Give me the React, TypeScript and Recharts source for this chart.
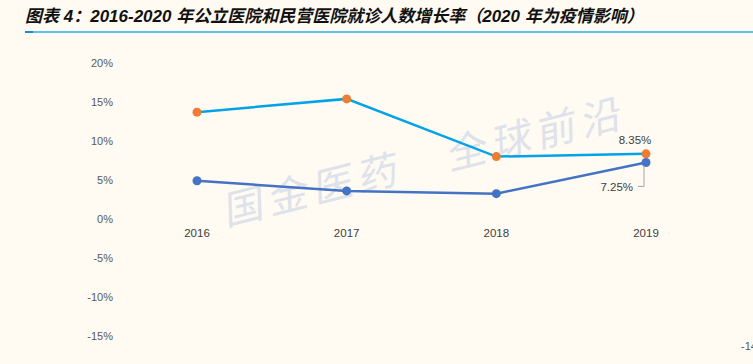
import { LineChart, Line, XAxis, YAxis, LabelList } from "recharts";

// 就诊人数增长率 (%)
const years = ["2016", "2017", "2018", "2019"];
const publicGrowth = [4.9, 3.6, 3.25, 7.25];
const privateGrowth = [13.7, 15.4, 8.0, 8.35];
const baseline = [0, 0, 0, 0];
const yTicks = [-15, -10, -5, 0, 5, 10, 15, 20];

const title =
  "图表 4：2016-2020 年公立医院和民营医院就诊人数增长率（2020 年为疫情影响）";
const watermark = "国金医药　全球前沿";

const data = years.map((year, i) => ({
  year,
  publicRate: publicGrowth[i],
  privateRate: privateGrowth[i],
  zero: baseline[i],
}));

const lastIndex = years.length - 1;

const YearLabel = (props: any) => {
  const { x, y, index } = props;
  return (
    <text
      x={x}
      y={y + 18}
      textAnchor="middle"
      fontSize={11.5}
      fill="#404040"
      fontFamily="Liberation Sans, Arial, sans-serif"
    >
      {years[index]}
    </text>
  );
};

const PrivateLabel = (props: any) => {
  const { x, y, index, value } = props;
  if (index !== lastIndex) return null;
  return (
    <text
      x={x - 11}
      y={y - 10}
      textAnchor="middle"
      fontSize={11.5}
      fill="#404040"
      fontFamily="Liberation Sans, Arial, sans-serif"
    >
      {`${value.toFixed(2)}%`}
    </text>
  );
};

const PublicLabel = (props: any) => {
  const { x, y, index, value } = props;
  if (index !== lastIndex) return null;
  return (
    <g>
      <path
        d={`M${x - 2},${y + 3} L${x - 2},${y + 24} L${x - 8},${y + 24}`}
        fill="none"
        stroke="#a6a6a6"
        strokeWidth={1}
      />
      <text
        x={x - 13}
        y={y + 29}
        textAnchor="end"
        fontSize={11.5}
        fill="#404040"
        fontFamily="Liberation Sans, Arial, sans-serif"
      >
        {`${value.toFixed(2)}%`}
      </text>
    </g>
  );
};

export default function App() {
  return (
    <div
      style={{
        position: "absolute",
        left: 0,
        top: 0,
        width: 753,
        height: 364,
        overflow: "hidden",
        background: "#FFFBF2",
      }}
    >
      <div
        style={{
          position: "absolute",
          left: 25,
          top: 2,
          fontSize: 17,
          fontWeight: "bold",
          fontStyle: "italic",
          color: "#111",
          whiteSpace: "nowrap",
          fontFamily: "Liberation Sans, Noto Sans CJK SC, sans-serif",
        }}
      >
        {title}
      </div>
      <div
        style={{
          position: "absolute",
          left: 25,
          top: 31,
          width: 728,
          height: 1.5,
          background: "#5BC2EE",
        }}
      />
      <div
        style={{
          position: "absolute",
          left: 25,
          top: 31,
          width: 8,
          height: 2,
          background: "#1E88C8",
        }}
      />
      <svg
        width={753}
        height={364}
        style={{ position: "absolute", left: 0, top: 0 }}
      >
        <text
          x={0}
          y={0}
          fontSize={40}
          fill="#DEE2EA"
          letterSpacing={6}
          fontFamily="Noto Sans CJK SC, sans-serif"
          transform="translate(226 226) rotate(-14) skewX(-12)"
        >
          {watermark}
        </text>
      </svg>
      <div style={{ position: "absolute", left: 0, top: 0 }}>
        <LineChart
          width={753}
          height={364}
          data={data}
          margin={{ top: 63, right: 32, bottom: 28, left: 62 }}
        >
          <XAxis
            dataKey="year"
            hide
            padding={{ left: 75, right: 75 }}
          />
          <YAxis
            width={60}
            domain={[-15, 20]}
            ticks={yTicks}
            axisLine={false}
            tickLine={false}
            tickMargin={3}
            tickFormatter={(v) => `${v}%`}
            tick={{
              fontSize: 11,
              fill: "#595959",
              fontFamily: "Liberation Sans, Arial, sans-serif",
            }}
          />
          <Line
            dataKey="zero"
            stroke="none"
            dot={false}
            activeDot={false}
            isAnimationActive={false}
          >
            <LabelList dataKey="zero" content={YearLabel} />
          </Line>
          <Line
            type="linear"
            dataKey="privateRate"
            stroke="#00A3E8"
            strokeWidth={2.5}
            dot={{ r: 4.5, fill: "#ED7D31", stroke: "none" }}
            activeDot={false}
            isAnimationActive={false}
          >
            <LabelList dataKey="privateRate" content={PrivateLabel} />
          </Line>
          <Line
            type="linear"
            dataKey="publicRate"
            stroke="#4472C4"
            strokeWidth={2.5}
            dot={{ r: 4.5, fill: "#4472C4", stroke: "none" }}
            activeDot={false}
            isAnimationActive={false}
          >
            <LabelList dataKey="publicRate" content={PublicLabel} />
          </Line>
        </LineChart>
      </div>
      <div
        style={{
          position: "absolute",
          left: 741,
          top: 340,
          fontSize: 11,
          color: "#595959",
          fontFamily: "Liberation Sans, Arial, sans-serif",
        }}
      >
        -14-
      </div>
    </div>
  );
}
